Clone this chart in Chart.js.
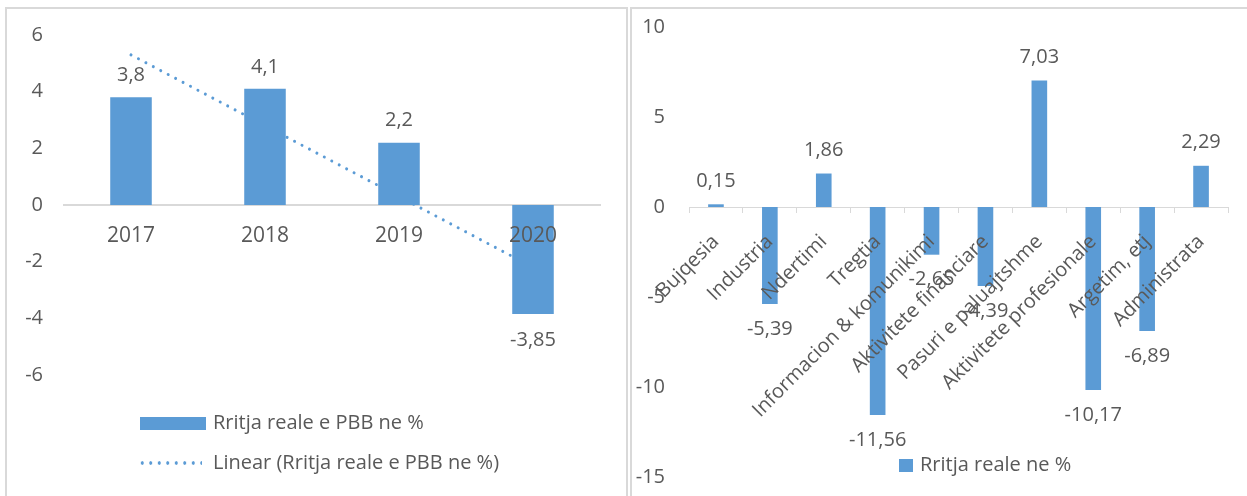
<!DOCTYPE html>
<html>
<head>
<meta charset="utf-8">
<script src="https://cdn.jsdelivr.net/npm/chart.js@4.4.1/dist/chart.umd.min.js"></script>
<style>
    body { margin: 0; width: 1247px; height: 496px; overflow: hidden; position: relative; background: #fff; font-family: 'Open Sans', sans-serif; color: #595959; }
    .panel { position: absolute; top: 7px; height: 500px; border: 2px solid #d9d9d9; border-bottom: none; box-sizing: border-box; }
    canvas { position: absolute; }
    .legend { position: absolute; white-space: nowrap; line-height: 1; }
    .swatch { position: absolute; background: #5b9bd5; }
    .dots { position: absolute; height: 4px; background: radial-gradient(circle, #5b9bd5 1.5px, transparent 1.9px) 0 0 / 8.5px 4px repeat-x; }
</style>
</head>
<body>
<div class="panel" style="left:5px; width:623px;"></div>
<div class="panel" style="left:630px; width:630px;"></div>

<canvas id="gdpChart" width="618" height="487" style="left:7px; top:9px;"></canvas>
<canvas id="sectorChart" width="615" height="487" style="left:632px; top:9px;"></canvas>

<!-- legends -->
<div class="swatch" style="left:140px; top:417px; width:66px; height:13px;"></div>
<div class="legend" style="left:213px; top:412px; font-size:20px;">Rritja reale e PBB ne %</div>
<div class="dots" style="left:138px; top:461px; width:64px;"></div>
<div class="legend" style="left:213px; top:452px; font-size:20px;">Linear (Rritja reale e PBB ne %)</div>

<div class="swatch" style="left:899px; top:459px; width:14px; height:13px;"></div>
<div class="legend" style="left:920px; top:454px; font-size:20px;">Rritja reale ne %</div>

<script>
// Left chart: real GDP growth
const years = ['2017', '2018', '2019', '2020'];
const gdpGrowth = [3.8, 4.1, 2.2, -3.85];
const gdpTrend = [5.3, 2.8, 0.3, -2.2];   // Excel linear trendline
const gdpTicks = [-6, -4, -2, 0, 2, 4, 6];

// Right chart: growth by sector
const sectors = ['Bujqesia', 'Industria', 'Ndertimi', 'Tregtia', 'Informacion & komunikimi',
    'Aktivitete financiare', 'Pasuri e paluajtshme', 'Aktivitete profesionale', 'Argetim, etj', 'Administrata'];
const sectorGrowth = [0.15, -5.39, 1.86, -11.56, -2.65, -4.39, 7.03, -10.17, -6.89, 2.29];
const sectorTicks = [-15, -10, -5, 0, 5, 10];

const BLUE = '#5B9BD5';
const TEXT = '#595959';
const AXIS = '#D9D9D9';
const FONT = 'Open Sans';

// value labels with comma decimals, above positive bars / below negative ones
const valueLabels = {
    id: 'valueLabels',
    afterDatasetsDraw(chart, args, opts) {
        const ctx = chart.ctx;
        const meta = chart.getDatasetMeta(0);
        const data = chart.data.datasets[0].data;
        ctx.save();
        ctx.font = opts.size + 'px "' + FONT + '", sans-serif';
        ctx.fillStyle = TEXT;
        ctx.textAlign = 'center';
        ctx.textBaseline = 'middle';
        meta.data.forEach((bar, i) => {
            const v = data[i];
            const y = v >= 0 ? bar.y - opts.above : bar.y + opts.below;
            ctx.fillText(String(v).replace('.', ','), bar.x, y);
        });
        ctx.restore();
    }
};

// keep the y axis at a fixed width and stop its label padding from shrinking the plot
const fixY = w => s => { s.width = w; s.paddingTop = 0; s.paddingBottom = 0; };

new Chart(document.getElementById('gdpChart'), {
    type: 'bar',
    data: {
        labels: years,
        datasets: [
            {
                label: 'Rritja reale e PBB ne %',
                data: gdpGrowth,
                backgroundColor: BLUE,
                categoryPercentage: 1,
                barPercentage: 0.31,
                order: 1
            },
            {
                type: 'line',
                label: 'Linear (Rritja reale e PBB ne %)',
                data: gdpTrend,
                borderColor: BLUE,
                borderWidth: 3,
                borderDash: [0.01, 8.4],
                borderCapStyle: 'round',
                pointRadius: 0,
                fill: false,
                order: 2
            }
        ]
    },
    options: {
        responsive: false,
        animation: false,
        layout: { padding: { top: 26, right: 25, bottom: 121, left: 0 } },
        plugins: {
            legend: { display: false },
            tooltip: { enabled: false },
            valueLabels: { size: 20, above: 22, below: 26 }
        },
        scales: {
            x: {
                position: { y: 0 },
                grid: { display: true, drawOnChartArea: false, drawTicks: false },
                border: { display: true, color: AXIS, width: 2 },
                ticks: { z: 1, color: TEXT, font: { family: FONT, size: 21 }, padding: 18, maxRotation: 0 }
            },
            y: {
                min: -6,
                max: 6,
                afterFit: fixY(57),
                afterBuildTicks: s => { s.ticks = gdpTicks.map(v => ({ value: v })); },
                grid: { display: false, drawTicks: false },
                border: { display: false },
                ticks: { color: TEXT, font: { family: FONT, size: 20 }, padding: 21 }
            }
        }
    },
    plugins: [valueLabels]
});

new Chart(document.getElementById('sectorChart'), {
    type: 'bar',
    data: {
        labels: sectors,
        datasets: [{
            label: 'Rritja reale ne %',
            data: sectorGrowth,
            backgroundColor: BLUE,
            categoryPercentage: 1,
            barPercentage: 0.29
        }]
    },
    options: {
        responsive: false,
        animation: false,
        layout: { padding: { top: 18, right: 19, bottom: 19, left: 0 } },
        plugins: {
            legend: { display: false },
            tooltip: { enabled: false },
            valueLabels: { size: 20, above: 23, below: 25 }
        },
        scales: {
            x: {
                position: { y: 0 },
                grid: { display: true, drawOnChartArea: false, drawTicks: true, tickLength: 5, offset: true, color: AXIS },
                border: { display: true, color: AXIS, width: 1 },
                ticks: { z: 1, color: TEXT, font: { family: FONT, size: 20 }, padding: 18, minRotation: 45, maxRotation: 45, autoSkip: false }
            },
            y: {
                min: -15,
                max: 10,
                afterFit: fixY(57),
                afterBuildTicks: s => { s.ticks = sectorTicks.map(v => ({ value: v })); },
                grid: { display: false, drawTicks: false },
                border: { display: false },
                ticks: { color: TEXT, font: { family: FONT, size: 20 }, padding: 24 }
            }
        }
    },
    plugins: [valueLabels]
});
</script>
</body>
</html>
